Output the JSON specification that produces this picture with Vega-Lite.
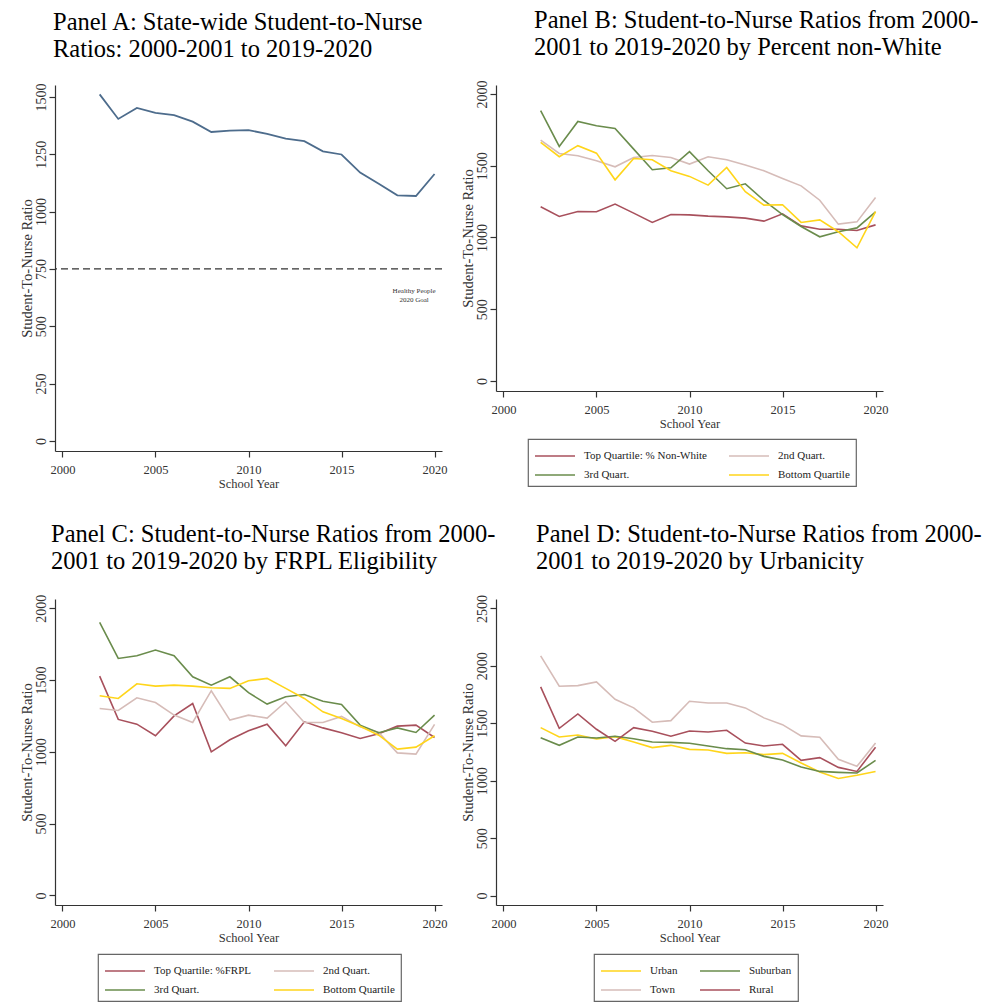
{
  "$schema": "https://vega.github.io/schema/vega-lite/v6.json",
  "background": "white",
  "padding": {"left": 19, "top": 7, "right": 5, "bottom": 2},
  "config": {
    "view": {"stroke": null},
    "font": "Liberation Serif",
    "title": {"font": "Liberation Serif", "fontSize": 24.5, "fontWeight": "normal", "anchor": "start", "frame": "group", "color": "#000000", "lineHeight": 27, "offset": 20},
    "axis": {"domainColor": "#333333", "tickColor": "#333333", "labelColor": "#333333", "titleColor": "#333333", "labelFont": "Liberation Serif", "titleFont": "Liberation Serif", "titleFontWeight": "normal", "grid": false, "tickSize": 6, "domainWidth": 1.2, "tickWidth": 1.2, "labelFlush": false, "labelOverlap": false},
    "axisX": {"labelFontSize": 12.5, "titleFontSize": 12.5, "labelPadding": 6, "titlePadding": 2},
    "axisY": {"labelFontSize": 14, "titleFontSize": 14.5, "labelAngle": 270, "labelAlign": "center", "labelBaseline": "bottom", "labelPadding": 1, "titlePadding": 0},
    "legend": {"orient": "none", "direction": "horizontal", "columns": 2, "symbolType": "M-1,0H3", "symbolSize": 400, "symbolStrokeWidth": 1.6, "symbolFillColor": "transparent", "labelFont": "Liberation Serif", "labelFontSize": 11, "labelColor": "#222222", "strokeColor": "#666666", "strokeWidth": 1.2, "padding": 6, "rowPadding": 3, "columnPadding": 18, "labelOffset": 28, "title": null, "labelLimit": 300}
  },
  "datasets": {
    "panelA": [
      {"year": 2002, "ratio": 1511}, {"year": 2003, "ratio": 1404}, {"year": 2004, "ratio": 1452}, {"year": 2005, "ratio": 1430}, {"year": 2006, "ratio": 1421}, {"year": 2007, "ratio": 1392}, {"year": 2008, "ratio": 1347}, {"year": 2009, "ratio": 1353}, {"year": 2010, "ratio": 1355}, {"year": 2011, "ratio": 1339}, {"year": 2012, "ratio": 1318}, {"year": 2013, "ratio": 1307}, {"year": 2014, "ratio": 1263}, {"year": 2015, "ratio": 1249}, {"year": 2016, "ratio": 1170}, {"year": 2017, "ratio": 1121}, {"year": 2018, "ratio": 1071}, {"year": 2019, "ratio": 1068}, {"year": 2020, "ratio": 1164}
    ],
    "panelB": [
      {"group": "Top Quartile: % Non-White", "year": 2002, "ratio": 1214}, {"group": "Top Quartile: % Non-White", "year": 2003, "ratio": 1147}, {"group": "Top Quartile: % Non-White", "year": 2004, "ratio": 1181}, {"group": "Top Quartile: % Non-White", "year": 2005, "ratio": 1179}, {"group": "Top Quartile: % Non-White", "year": 2006, "ratio": 1233}, {"group": "Top Quartile: % Non-White", "year": 2007, "ratio": 1170}, {"group": "Top Quartile: % Non-White", "year": 2008, "ratio": 1105}, {"group": "Top Quartile: % Non-White", "year": 2009, "ratio": 1160}, {"group": "Top Quartile: % Non-White", "year": 2010, "ratio": 1158}, {"group": "Top Quartile: % Non-White", "year": 2011, "ratio": 1149}, {"group": "Top Quartile: % Non-White", "year": 2012, "ratio": 1144}, {"group": "Top Quartile: % Non-White", "year": 2013, "ratio": 1135}, {"group": "Top Quartile: % Non-White", "year": 2014, "ratio": 1114}, {"group": "Top Quartile: % Non-White", "year": 2015, "ratio": 1165}, {"group": "Top Quartile: % Non-White", "year": 2016, "ratio": 1081}, {"group": "Top Quartile: % Non-White", "year": 2017, "ratio": 1058}, {"group": "Top Quartile: % Non-White", "year": 2018, "ratio": 1058}, {"group": "Top Quartile: % Non-White", "year": 2019, "ratio": 1049}, {"group": "Top Quartile: % Non-White", "year": 2020, "ratio": 1088},
      {"group": "2nd Quart.", "year": 2002, "ratio": 1679}, {"group": "2nd Quart.", "year": 2003, "ratio": 1586}, {"group": "2nd Quart.", "year": 2004, "ratio": 1570}, {"group": "2nd Quart.", "year": 2005, "ratio": 1535}, {"group": "2nd Quart.", "year": 2006, "ratio": 1493}, {"group": "2nd Quart.", "year": 2007, "ratio": 1558}, {"group": "2nd Quart.", "year": 2008, "ratio": 1572}, {"group": "2nd Quart.", "year": 2009, "ratio": 1558}, {"group": "2nd Quart.", "year": 2010, "ratio": 1512}, {"group": "2nd Quart.", "year": 2011, "ratio": 1563}, {"group": "2nd Quart.", "year": 2012, "ratio": 1542}, {"group": "2nd Quart.", "year": 2013, "ratio": 1505}, {"group": "2nd Quart.", "year": 2014, "ratio": 1465}, {"group": "2nd Quart.", "year": 2015, "ratio": 1412}, {"group": "2nd Quart.", "year": 2016, "ratio": 1360}, {"group": "2nd Quart.", "year": 2017, "ratio": 1260}, {"group": "2nd Quart.", "year": 2018, "ratio": 1093}, {"group": "2nd Quart.", "year": 2019, "ratio": 1109}, {"group": "2nd Quart.", "year": 2020, "ratio": 1279},
      {"group": "3rd Quart.", "year": 2002, "ratio": 1884}, {"group": "3rd Quart.", "year": 2003, "ratio": 1635}, {"group": "3rd Quart.", "year": 2004, "ratio": 1809}, {"group": "3rd Quart.", "year": 2005, "ratio": 1779}, {"group": "3rd Quart.", "year": 2006, "ratio": 1760}, {"group": "3rd Quart.", "year": 2007, "ratio": 1616}, {"group": "3rd Quart.", "year": 2008, "ratio": 1472}, {"group": "3rd Quart.", "year": 2009, "ratio": 1486}, {"group": "3rd Quart.", "year": 2010, "ratio": 1598}, {"group": "3rd Quart.", "year": 2011, "ratio": 1465}, {"group": "3rd Quart.", "year": 2012, "ratio": 1340}, {"group": "3rd Quart.", "year": 2013, "ratio": 1374}, {"group": "3rd Quart.", "year": 2014, "ratio": 1258}, {"group": "3rd Quart.", "year": 2015, "ratio": 1160}, {"group": "3rd Quart.", "year": 2016, "ratio": 1077}, {"group": "3rd Quart.", "year": 2017, "ratio": 1005}, {"group": "3rd Quart.", "year": 2018, "ratio": 1040}, {"group": "3rd Quart.", "year": 2019, "ratio": 1067}, {"group": "3rd Quart.", "year": 2020, "ratio": 1179},
      {"group": "Bottom Quartile", "year": 2002, "ratio": 1663}, {"group": "Bottom Quartile", "year": 2003, "ratio": 1563}, {"group": "Bottom Quartile", "year": 2004, "ratio": 1640}, {"group": "Bottom Quartile", "year": 2005, "ratio": 1588}, {"group": "Bottom Quartile", "year": 2006, "ratio": 1402}, {"group": "Bottom Quartile", "year": 2007, "ratio": 1551}, {"group": "Bottom Quartile", "year": 2008, "ratio": 1542}, {"group": "Bottom Quartile", "year": 2009, "ratio": 1465}, {"group": "Bottom Quartile", "year": 2010, "ratio": 1426}, {"group": "Bottom Quartile", "year": 2011, "ratio": 1365}, {"group": "Bottom Quartile", "year": 2012, "ratio": 1488}, {"group": "Bottom Quartile", "year": 2013, "ratio": 1319}, {"group": "Bottom Quartile", "year": 2014, "ratio": 1226}, {"group": "Bottom Quartile", "year": 2015, "ratio": 1228}, {"group": "Bottom Quartile", "year": 2016, "ratio": 1105}, {"group": "Bottom Quartile", "year": 2017, "ratio": 1123}, {"group": "Bottom Quartile", "year": 2018, "ratio": 1040}, {"group": "Bottom Quartile", "year": 2019, "ratio": 928}, {"group": "Bottom Quartile", "year": 2020, "ratio": 1181}
    ],
    "panelC": [
      {"group": "Top Quartile: %FRPL", "year": 2002, "ratio": 1528}, {"group": "Top Quartile: %FRPL", "year": 2003, "ratio": 1226}, {"group": "Top Quartile: %FRPL", "year": 2004, "ratio": 1193}, {"group": "Top Quartile: %FRPL", "year": 2005, "ratio": 1112}, {"group": "Top Quartile: %FRPL", "year": 2006, "ratio": 1251}, {"group": "Top Quartile: %FRPL", "year": 2007, "ratio": 1337}, {"group": "Top Quartile: %FRPL", "year": 2008, "ratio": 1000}, {"group": "Top Quartile: %FRPL", "year": 2009, "ratio": 1084}, {"group": "Top Quartile: %FRPL", "year": 2010, "ratio": 1147}, {"group": "Top Quartile: %FRPL", "year": 2011, "ratio": 1193}, {"group": "Top Quartile: %FRPL", "year": 2012, "ratio": 1042}, {"group": "Top Quartile: %FRPL", "year": 2013, "ratio": 1209}, {"group": "Top Quartile: %FRPL", "year": 2014, "ratio": 1167}, {"group": "Top Quartile: %FRPL", "year": 2015, "ratio": 1133}, {"group": "Top Quartile: %FRPL", "year": 2016, "ratio": 1093}, {"group": "Top Quartile: %FRPL", "year": 2017, "ratio": 1126}, {"group": "Top Quartile: %FRPL", "year": 2018, "ratio": 1179}, {"group": "Top Quartile: %FRPL", "year": 2019, "ratio": 1186}, {"group": "Top Quartile: %FRPL", "year": 2020, "ratio": 1100},
      {"group": "2nd Quart.", "year": 2002, "ratio": 1302}, {"group": "2nd Quart.", "year": 2003, "ratio": 1288}, {"group": "2nd Quart.", "year": 2004, "ratio": 1377}, {"group": "2nd Quart.", "year": 2005, "ratio": 1344}, {"group": "2nd Quart.", "year": 2006, "ratio": 1256}, {"group": "2nd Quart.", "year": 2007, "ratio": 1205}, {"group": "2nd Quart.", "year": 2008, "ratio": 1426}, {"group": "2nd Quart.", "year": 2009, "ratio": 1221}, {"group": "2nd Quart.", "year": 2010, "ratio": 1256}, {"group": "2nd Quart.", "year": 2011, "ratio": 1235}, {"group": "2nd Quart.", "year": 2012, "ratio": 1349}, {"group": "2nd Quart.", "year": 2013, "ratio": 1205}, {"group": "2nd Quart.", "year": 2014, "ratio": 1205}, {"group": "2nd Quart.", "year": 2015, "ratio": 1247}, {"group": "2nd Quart.", "year": 2016, "ratio": 1174}, {"group": "2nd Quart.", "year": 2017, "ratio": 1135}, {"group": "2nd Quart.", "year": 2018, "ratio": 993}, {"group": "2nd Quart.", "year": 2019, "ratio": 984}, {"group": "2nd Quart.", "year": 2020, "ratio": 1191},
      {"group": "3rd Quart.", "year": 2002, "ratio": 1902}, {"group": "3rd Quart.", "year": 2003, "ratio": 1651}, {"group": "3rd Quart.", "year": 2004, "ratio": 1670}, {"group": "3rd Quart.", "year": 2005, "ratio": 1709}, {"group": "3rd Quart.", "year": 2006, "ratio": 1670}, {"group": "3rd Quart.", "year": 2007, "ratio": 1523}, {"group": "3rd Quart.", "year": 2008, "ratio": 1465}, {"group": "3rd Quart.", "year": 2009, "ratio": 1523}, {"group": "3rd Quart.", "year": 2010, "ratio": 1412}, {"group": "3rd Quart.", "year": 2011, "ratio": 1333}, {"group": "3rd Quart.", "year": 2012, "ratio": 1384}, {"group": "3rd Quart.", "year": 2013, "ratio": 1400}, {"group": "3rd Quart.", "year": 2014, "ratio": 1353}, {"group": "3rd Quart.", "year": 2015, "ratio": 1330}, {"group": "3rd Quart.", "year": 2016, "ratio": 1186}, {"group": "3rd Quart.", "year": 2017, "ratio": 1133}, {"group": "3rd Quart.", "year": 2018, "ratio": 1167}, {"group": "3rd Quart.", "year": 2019, "ratio": 1135}, {"group": "3rd Quart.", "year": 2020, "ratio": 1256},
      {"group": "Bottom Quartile", "year": 2002, "ratio": 1391}, {"group": "Bottom Quartile", "year": 2003, "ratio": 1372}, {"group": "Bottom Quartile", "year": 2004, "ratio": 1474}, {"group": "Bottom Quartile", "year": 2005, "ratio": 1458}, {"group": "Bottom Quartile", "year": 2006, "ratio": 1465}, {"group": "Bottom Quartile", "year": 2007, "ratio": 1458}, {"group": "Bottom Quartile", "year": 2008, "ratio": 1447}, {"group": "Bottom Quartile", "year": 2009, "ratio": 1442}, {"group": "Bottom Quartile", "year": 2010, "ratio": 1495}, {"group": "Bottom Quartile", "year": 2011, "ratio": 1512}, {"group": "Bottom Quartile", "year": 2012, "ratio": 1442}, {"group": "Bottom Quartile", "year": 2013, "ratio": 1372}, {"group": "Bottom Quartile", "year": 2014, "ratio": 1279}, {"group": "Bottom Quartile", "year": 2015, "ratio": 1233}, {"group": "Bottom Quartile", "year": 2016, "ratio": 1179}, {"group": "Bottom Quartile", "year": 2017, "ratio": 1116}, {"group": "Bottom Quartile", "year": 2018, "ratio": 1019}, {"group": "Bottom Quartile", "year": 2019, "ratio": 1033}, {"group": "Bottom Quartile", "year": 2020, "ratio": 1112}
    ],
    "panelD": [
      {"group": "Urban", "year": 2002, "ratio": 1462}, {"group": "Urban", "year": 2003, "ratio": 1381}, {"group": "Urban", "year": 2004, "ratio": 1398}, {"group": "Urban", "year": 2005, "ratio": 1363}, {"group": "Urban", "year": 2006, "ratio": 1384}, {"group": "Urban", "year": 2007, "ratio": 1337}, {"group": "Urban", "year": 2008, "ratio": 1288}, {"group": "Urban", "year": 2009, "ratio": 1308}, {"group": "Urban", "year": 2010, "ratio": 1273}, {"group": "Urban", "year": 2011, "ratio": 1267}, {"group": "Urban", "year": 2012, "ratio": 1238}, {"group": "Urban", "year": 2013, "ratio": 1244}, {"group": "Urban", "year": 2014, "ratio": 1227}, {"group": "Urban", "year": 2015, "ratio": 1238}, {"group": "Urban", "year": 2016, "ratio": 1154}, {"group": "Urban", "year": 2017, "ratio": 1076}, {"group": "Urban", "year": 2018, "ratio": 1020}, {"group": "Urban", "year": 2019, "ratio": 1047}, {"group": "Urban", "year": 2020, "ratio": 1081},
      {"group": "Suburban", "year": 2002, "ratio": 1375}, {"group": "Suburban", "year": 2003, "ratio": 1308}, {"group": "Suburban", "year": 2004, "ratio": 1381}, {"group": "Suburban", "year": 2005, "ratio": 1372}, {"group": "Suburban", "year": 2006, "ratio": 1387}, {"group": "Suburban", "year": 2007, "ratio": 1366}, {"group": "Suburban", "year": 2008, "ratio": 1337}, {"group": "Suburban", "year": 2009, "ratio": 1334}, {"group": "Suburban", "year": 2010, "ratio": 1326}, {"group": "Suburban", "year": 2011, "ratio": 1302}, {"group": "Suburban", "year": 2012, "ratio": 1279}, {"group": "Suburban", "year": 2013, "ratio": 1270}, {"group": "Suburban", "year": 2014, "ratio": 1212}, {"group": "Suburban", "year": 2015, "ratio": 1180}, {"group": "Suburban", "year": 2016, "ratio": 1119}, {"group": "Suburban", "year": 2017, "ratio": 1081}, {"group": "Suburban", "year": 2018, "ratio": 1073}, {"group": "Suburban", "year": 2019, "ratio": 1067}, {"group": "Suburban", "year": 2020, "ratio": 1177},
      {"group": "Town", "year": 2002, "ratio": 2087}, {"group": "Town", "year": 2003, "ratio": 1823}, {"group": "Town", "year": 2004, "ratio": 1828}, {"group": "Town", "year": 2005, "ratio": 1860}, {"group": "Town", "year": 2006, "ratio": 1709}, {"group": "Town", "year": 2007, "ratio": 1634}, {"group": "Town", "year": 2008, "ratio": 1509}, {"group": "Town", "year": 2009, "ratio": 1523}, {"group": "Town", "year": 2010, "ratio": 1692}, {"group": "Town", "year": 2011, "ratio": 1677}, {"group": "Town", "year": 2012, "ratio": 1677}, {"group": "Town", "year": 2013, "ratio": 1634}, {"group": "Town", "year": 2014, "ratio": 1547}, {"group": "Town", "year": 2015, "ratio": 1488}, {"group": "Town", "year": 2016, "ratio": 1390}, {"group": "Town", "year": 2017, "ratio": 1378}, {"group": "Town", "year": 2018, "ratio": 1186}, {"group": "Town", "year": 2019, "ratio": 1125}, {"group": "Town", "year": 2020, "ratio": 1328},
      {"group": "Rural", "year": 2002, "ratio": 1817}, {"group": "Rural", "year": 2003, "ratio": 1456}, {"group": "Rural", "year": 2004, "ratio": 1581}, {"group": "Rural", "year": 2005, "ratio": 1448}, {"group": "Rural", "year": 2006, "ratio": 1343}, {"group": "Rural", "year": 2007, "ratio": 1462}, {"group": "Rural", "year": 2008, "ratio": 1430}, {"group": "Rural", "year": 2009, "ratio": 1387}, {"group": "Rural", "year": 2010, "ratio": 1433}, {"group": "Rural", "year": 2011, "ratio": 1424}, {"group": "Rural", "year": 2012, "ratio": 1439}, {"group": "Rural", "year": 2013, "ratio": 1328}, {"group": "Rural", "year": 2014, "ratio": 1302}, {"group": "Rural", "year": 2015, "ratio": 1317}, {"group": "Rural", "year": 2016, "ratio": 1177}, {"group": "Rural", "year": 2017, "ratio": 1201}, {"group": "Rural", "year": 2018, "ratio": 1116}, {"group": "Rural", "year": 2019, "ratio": 1081}, {"group": "Rural", "year": 2020, "ratio": 1291}
    ]
  },
  "columns": 2,
  "bounds": "flush",
  "spacing": {"row": 148, "column": 54},
  "resolve": {"scale": {"x": "independent", "y": "independent", "color": "independent"}, "legend": {"color": "independent"}},
  "concat": [
    {
      "title": {"text": ["Panel A: State-wide Student-to-Nurse", "Ratios: 2000-2001 to 2019-2020"], "dx": -2},
      "width": 387,
      "height": 366,
      "layer": [
        {
          "data": {"name": "panelA"},
          "mark": {"type": "line", "color": "#4d6c8c", "strokeWidth": 1.8},
          "encoding": {
            "x": {"field": "year", "type": "quantitative", "scale": {"domain": [1999.6, 2020.4], "nice": false, "zero": false}, "axis": {"values": [2000, 2005, 2010, 2015, 2020], "format": "d", "title": "School Year"}},
            "y": {"field": "ratio", "type": "quantitative", "scale": {"domain": [-44, 1552], "nice": false, "zero": false}, "axis": {"values": [0, 250, 500, 750, 1000, 1250, 1500], "format": "d", "title": "Student-To-Nurse Ratio"}}
          }
        },
        {
          "data": {"values": [{}]},
          "mark": {"type": "rule", "color": "#333333", "strokeDash": [7, 4], "strokeWidth": 1.2},
          "encoding": {"y": {"datum": 750}}
        },
        {
          "data": {"values": [{}]},
          "mark": {"type": "text", "font": "Liberation Serif", "fontSize": 7, "lineHeight": 8.5, "align": "center", "baseline": "middle", "fill": "#333333"},
          "encoding": {"x": {"datum": 2018.9}, "y": {"datum": 652}, "text": {"value": ["Healthy People", "2020 Goal"]}}
        }
      ]
    },
    {
      "title": {"text": ["Panel B: Student-to-Nurse Ratios from 2000-", "2001 to 2019-2020 by Percent non-White"], "dx": 38},
      "width": 387,
      "height": 306,
      "data": {"name": "panelB"},
      "mark": {"type": "line", "strokeWidth": 1.6},
      "encoding": {
        "x": {"field": "year", "type": "quantitative", "scale": {"domain": [1999.6, 2020.4], "nice": false, "zero": false}, "axis": {"values": [2000, 2005, 2010, 2015, 2020], "format": "d", "title": "School Year"}},
        "y": {"field": "ratio", "type": "quantitative", "scale": {"domain": [-70, 2063], "nice": false, "zero": false}, "axis": {"values": [0, 500, 1000, 1500, 2000], "format": "d", "title": "Student-To-Nurse Ratio"}},
        "color": {"field": "group", "type": "nominal", "sort": ["Top Quartile: % Non-White", "2nd Quart.", "3rd Quart.", "Bottom Quartile"], "scale": {"domain": ["Top Quartile: % Non-White", "2nd Quart.", "3rd Quart.", "Bottom Quartile"], "range": ["#a8505c", "#d6bcb8", "#6a8c4c", "#ffd51a"]}, "legend": {"legendX": 32, "legendY": 354}}
      }
    },
    {
      "title": {"text": ["Panel C: Student-to-Nurse Ratios from 2000-", "2001 to 2019-2020 by FRPL Eligibility"], "dx": -4},
      "width": 387,
      "height": 306,
      "data": {"name": "panelC"},
      "mark": {"type": "line", "strokeWidth": 1.6},
      "encoding": {
        "x": {"field": "year", "type": "quantitative", "scale": {"domain": [1999.6, 2020.4], "nice": false, "zero": false}, "axis": {"values": [2000, 2005, 2010, 2015, 2020], "format": "d", "title": "School Year"}},
        "y": {"field": "ratio", "type": "quantitative", "scale": {"domain": [-67, 2065], "nice": false, "zero": false}, "axis": {"values": [0, 500, 1000, 1500, 2000], "format": "d", "title": "Student-To-Nurse Ratio"}},
        "color": {"field": "group", "type": "nominal", "sort": ["Top Quartile: %FRPL", "2nd Quart.", "3rd Quart.", "Bottom Quartile"], "scale": {"domain": ["Top Quartile: %FRPL", "2nd Quart.", "3rd Quart.", "Bottom Quartile"], "range": ["#a8505c", "#d6bcb8", "#6a8c4c", "#ffd51a"]}, "legend": {"legendX": 43, "legendY": 355}}
      }
    },
    {
      "title": {"text": ["Panel D: Student-to-Nurse Ratios from 2000-", "2001 to 2019-2020 by Urbanicity"], "dx": 40},
      "width": 387,
      "height": 306,
      "data": {"name": "panelD"},
      "mark": {"type": "line", "strokeWidth": 1.6},
      "encoding": {
        "x": {"field": "year", "type": "quantitative", "scale": {"domain": [1999.6, 2020.4], "nice": false, "zero": false}, "axis": {"values": [2000, 2005, 2010, 2015, 2020], "format": "d", "title": "School Year"}},
        "y": {"field": "ratio", "type": "quantitative", "scale": {"domain": [-82, 2582], "nice": false, "zero": false}, "axis": {"values": [0, 500, 1000, 1500, 2000, 2500], "format": "d", "title": "Student-To-Nurse Ratio"}},
        "color": {"field": "group", "type": "nominal", "sort": ["Urban", "Suburban", "Town", "Rural"], "scale": {"domain": ["Urban", "Suburban", "Town", "Rural"], "range": ["#ffd51a", "#6a8c4c", "#d6bcb8", "#a8505c"]}, "legend": {"legendX": 98, "legendY": 355}}
      }
    }
  ]
}
